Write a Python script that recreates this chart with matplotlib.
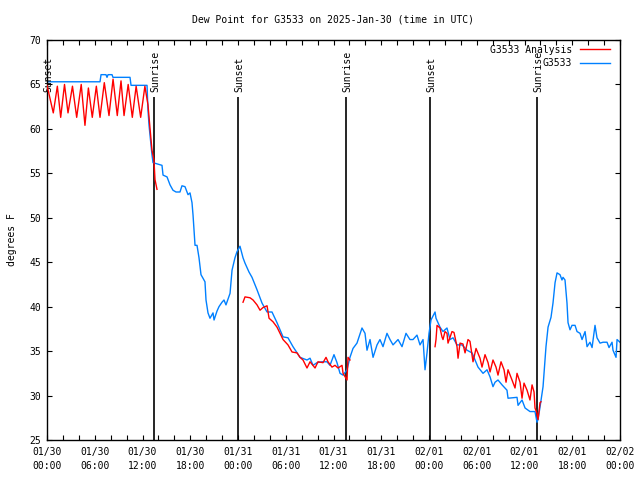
import numpy as np
import matplotlib
matplotlib.use('Agg')
import matplotlib.pyplot as plt

#===============================================================================
# data (hours since 2025-01-30 00:00 UTC, dew point degF)
#===============================================================================
obs_hours = [0, 6.66, 6.79, 7.41, 7.54, 7.67, 8.17, 8.29, 10.43, 10.56, 12.57, 12.69,
             12.82, 12.94, 13.07, 13.19, 13.32, 14.45, 14.58, 15.08, 15.46, 15.83,
             16.21, 16.71, 16.96, 17.34, 17.72, 17.97, 18.22, 18.35, 18.60, 18.85,
             19.10, 19.35, 19.85, 19.98, 20.23, 20.48, 20.86, 20.99, 21.36, 21.61,
             21.99, 22.24, 22.49, 23.00, 23.25, 23.62, 23.88, 24.25, 24.63, 24.88,
             25.38, 25.76, 26.39, 27.02, 27.65, 28.27, 28.90, 29.28, 29.66, 30.28,
             30.91, 31.42, 31.79, 32.67, 33.05, 33.43, 33.93, 34.56, 35.18, 35.56,
             36.06, 36.44, 36.82, 37.20, 37.70, 38.07, 38.45, 38.95, 39.58, 39.96,
             40.21, 40.59, 40.97, 41.47, 41.84, 42.22, 42.72, 43.10, 43.48, 44.11,
             44.61, 45.11, 45.61, 45.99, 46.49, 46.87, 47.25, 47.50, 47.75, 48.00,
             48.25, 48.76, 48.88, 49.38, 49.76, 50.26, 50.64, 51.02, 51.52, 52.15,
             52.78, 53.41, 53.78, 54.16, 54.79, 55.29, 55.67, 56.04, 56.30, 56.67,
             57.18, 57.80, 57.93, 59.06, 59.19, 59.69, 60.07, 60.69, 61.32, 61.57,
             61.70, 61.95, 62.33, 62.45, 62.70, 62.96, 63.33, 63.58, 63.84, 64.09,
             64.46, 64.71, 64.84, 65.09, 65.34, 65.47, 65.72, 65.97, 66.35, 66.60,
             66.98, 67.23, 67.61, 67.86, 68.23, 68.49, 68.86, 69.11, 69.49, 69.87,
             70.37, 70.62, 71.00, 71.12, 71.50, 71.63, 72.0]
obs_dewpt = [65.3, 65.3, 66.1, 66.1, 65.8, 66.1, 66.1, 65.8, 65.8, 64.9, 64.9, 62.1,
             60.4, 59.3, 58.2, 57.1, 56.2, 55.9, 54.8, 54.6, 53.7, 53.1,
             52.9, 52.9, 53.6, 53.5, 52.6, 52.8, 51.7, 50.3, 46.9, 46.9,
             45.5, 43.6, 42.8, 40.75, 39.3, 38.7, 39.3, 38.5, 39.5, 40.0,
             40.5, 40.75, 40.2, 41.5, 44.1, 45.5, 46.2, 46.8, 45.5, 44.9,
             43.9, 43.3, 41.9, 40.4, 39.4, 39.4, 38.2, 37.4, 36.6, 36.5,
             35.5, 34.8, 34.3, 34.0, 34.2, 33.4, 33.7, 33.8, 33.8, 33.4,
             34.6, 33.7, 32.5, 32.3, 32.9, 34.3, 35.3, 35.9, 37.6, 37.0,
             35.1, 36.3, 34.3, 35.7, 36.3, 35.5, 37.0, 36.3, 35.7, 36.3,
             35.5, 37.0, 36.3, 36.3, 36.8, 35.7, 36.3, 32.9, 34.8, 37.0,
             38.5, 39.4, 38.7, 37.7, 37.2, 37.6, 36.3, 36.5, 35.7, 35.7,
             35.1, 34.8, 34.0, 33.2, 32.5, 32.9, 32.1, 31.0, 31.5, 31.75,
             31.2, 30.6, 29.7, 29.8, 28.9, 29.5, 28.6, 28.2, 28.2, 27.0,
             27.3, 28.7, 31.0, 32.5, 35.5, 37.7, 38.8, 40.4, 42.7, 43.8,
             43.6, 43.0, 43.3, 43.0, 40.4, 38.2, 37.4, 37.9, 37.9, 37.2,
             37.0, 36.3, 37.2, 35.5, 36.0, 35.4, 37.9, 36.5, 35.9, 36.0,
             36.0, 35.4, 36.0, 35.1, 34.3, 36.3, 36.0]

#analysis, three separate runs
ana_hours_1 = [0, 0.79, 1.3, 1.72, 2.2, 2.64, 3.2, 3.73, 4.3, 4.77, 5.2, 5.69, 6.2,
               6.66, 7.2, 7.79, 8.3, 8.83, 9.3, 9.68, 10.2, 10.72, 11.2, 11.77, 12.3,
               12.69, 12.94, 13.19, 13.44, 13.57, 13.82]
ana_dewpt_1 = [64.9, 61.8, 64.8, 61.3, 65.0, 61.8, 64.8, 61.3, 65.0, 60.4, 64.6, 61.3, 64.8,
               61.3, 65.2, 61.5, 65.6, 61.5, 65.4, 61.5, 65.0, 61.3, 64.8, 61.3, 64.8,
               62.7, 60.1, 57.6, 56.5, 54.3, 53.2]

ana_hours_2 = [24.63, 24.88, 25.51, 25.89, 26.39, 26.77, 27.14, 27.65, 27.90, 28.40,
               28.90, 29.28, 29.66, 30.28, 30.79, 31.42, 31.79, 32.17, 32.67, 33.05,
               33.68, 34.05, 34.68, 35.06, 35.31, 35.81, 36.19, 36.57, 37.07, 37.20,
               37.70, 37.82, 38.07]
ana_dewpt_2 = [40.5, 41.1, 41.0, 40.75, 40.2, 39.6, 39.9, 40.1, 38.7, 38.3,
               37.7, 37.0, 36.3, 35.7, 34.9, 34.8, 34.3, 34.0, 33.1, 33.8,
               33.1, 33.8, 33.7, 34.3, 33.8, 33.2, 33.4, 33.1, 33.4, 32.5,
               31.75, 34.3, 34.0]

ana_hours_3 = [48.76, 48.88, 49.01, 49.38, 49.63, 49.76, 50.01, 50.26, 50.39, 50.89,
               51.14, 51.52, 51.65, 51.90, 52.27, 52.53, 52.90, 53.15, 53.53, 53.91,
               54.41, 54.66, 55.04, 55.42, 55.67, 56.04, 56.42, 56.67, 57.05, 57.43,
               57.68, 57.93, 58.43, 58.81, 59.06, 59.44, 59.69, 59.94, 60.32, 60.69,
               60.95, 61.20, 61.32, 61.57, 61.70, 61.95, 62.07]
ana_dewpt_3 = [35.5, 36.3, 37.9, 37.6, 36.6, 36.3, 37.2, 37.0, 35.9, 37.2,
               37.1, 35.5, 34.2, 35.9, 35.8, 34.8, 36.3, 36.1, 33.8, 35.3,
               34.2, 33.2, 34.6, 33.7, 32.65, 34.0, 33.2, 32.3, 33.8, 32.9,
               31.5, 32.9, 31.75, 30.85, 32.5, 31.5, 29.7, 31.4, 30.6, 29.5,
               31.2, 30.4, 28.6, 28.0, 27.3, 29.2, 29.3]

sunset_hours = [0.0, 24.0, 48.13]
sunrise_hours = [13.45, 37.57, 61.57]

tick_hours = list(range(0, 73, 6))
tick_labels = ['01/30\n00:00', '01/30\n06:00', '01/30\n12:00', '01/30\n18:00',
               '01/31\n00:00', '01/31\n06:00', '01/31\n12:00', '01/31\n18:00',
               '02/01\n00:00', '02/01\n06:00', '02/01\n12:00', '02/01\n18:00',
               '02/02\n00:00']

#===============================================================================
# figure
#===============================================================================
plt.rcParams['font.family'] = ['DejaVu Sans Mono']
fs = 7

fig = plt.figure(figsize=(6.4, 4.8), dpi=100)
ax = fig.add_axes([47/640, 40/480, 573/640, 400/480])

red = '#ff0000'
blue = '#0080ff'

#event lines
for h in sunset_hours:
    ax.vlines(h, 25, 63.6, color='black', lw=1.2, zorder=1)
    ax.text(h + 0.15, 64.1, 'Sunset', rotation=90, ha='center', va='bottom', fontsize=fs)
for h in sunrise_hours:
    ax.vlines(h, 25, 63.6, color='black', lw=1.2, zorder=1)
    ax.text(h + 0.15, 64.1, 'Sunrise', rotation=90, ha='center', va='bottom', fontsize=fs)

ax.plot(ana_hours_1, ana_dewpt_1, color=red, lw=1.0, label='G3533 Analysis', zorder=3)
ax.plot(ana_hours_2, ana_dewpt_2, color=red, lw=1.0, zorder=3)
ax.plot(ana_hours_3, ana_dewpt_3, color=red, lw=1.0, zorder=3)
ax.plot(obs_hours, obs_dewpt, color=blue, lw=1.0, label='G3533', zorder=2)

ax.set_xlim(0, 72)
ax.set_ylim(25, 70)
ax.set_xticks(tick_hours)
ax.set_xticklabels(tick_labels, linespacing=1.5, fontsize=fs)
ax.set_xticks(np.arange(0, 73, 2), minor=True)
ax.set_yticks(np.arange(25, 71, 5))
ax.tick_params(axis='y', labelsize=fs, pad=4)
ax.tick_params(which='both', direction='in', top=True, right=True, length=3.6, width=0.8)
ax.tick_params(axis='x', which='major', pad=5)
for sp in ax.spines.values():
    sp.set_linewidth(1.0)

fig.text(333/640, 1 - 19/480, 'Dew Point for G3533 on 2025-Jan-30 (time in UTC)',
         ha='center', va='center', fontsize=fs)
fig.text(12/640, 0.5, 'degrees F', rotation=90, ha='center', va='center', fontsize=fs)

ax.legend(loc='upper right', bbox_to_anchor=(1 - 5/573, 1.0), frameon=False,
          markerfirst=False, fontsize=fs,
          handlelength=3.1, handletextpad=0.8, labelspacing=0.35,
          borderaxespad=0.2, borderpad=0.3)

fig.savefig('out.png', dpi=100)
